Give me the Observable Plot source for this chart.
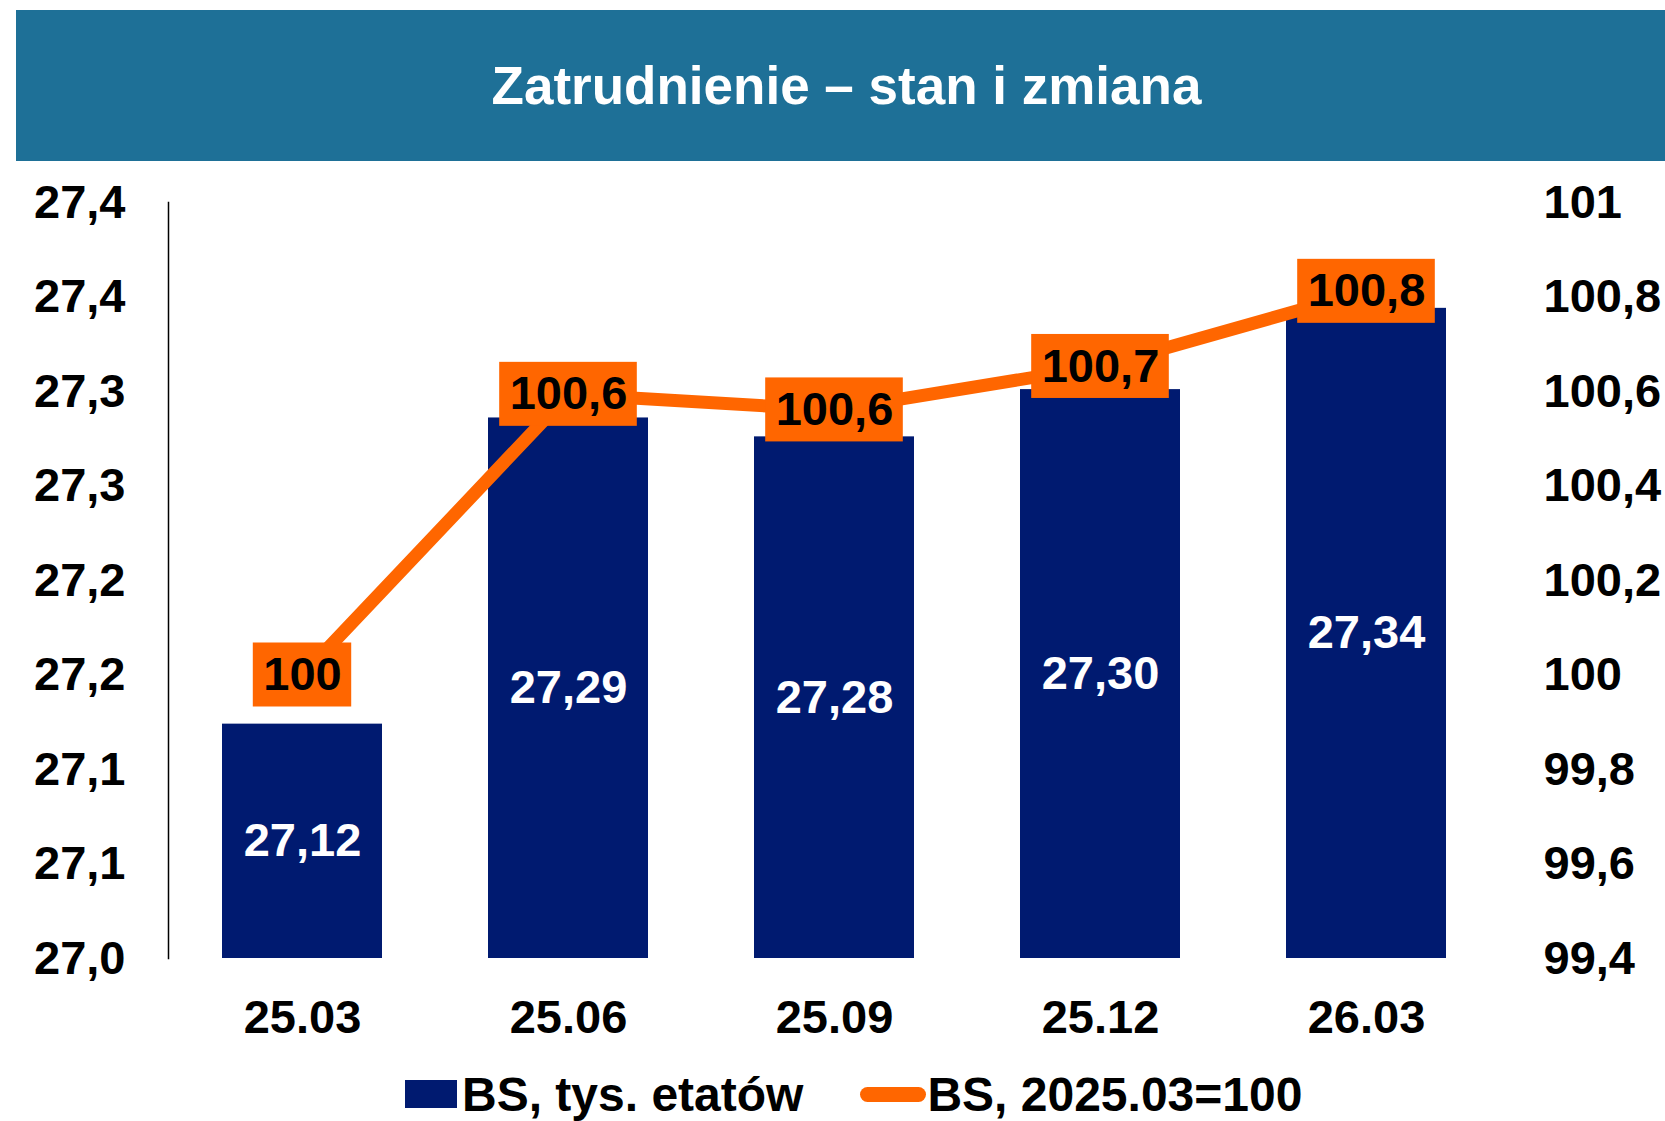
<!DOCTYPE html>
<html><head><meta charset="utf-8">
<script src="https://cdn.jsdelivr.net/npm/d3@7"></script>
<script src="https://cdn.jsdelivr.net/npm/@observablehq/plot@0.6"></script>
<style>
body{margin:0;width:1665px;height:1121px;position:relative;background:#fff;font-family:"Liberation Sans",Arial,sans-serif;overflow:hidden}
#header{position:absolute;left:16px;top:10px;width:1649px;height:151px;background:#1E7097;display:flex;align-items:center;justify-content:center}
#header h1{margin:0;color:#fff;font-size:53px;font-weight:bold;padding-left:12px;letter-spacing:0}
#chart{position:absolute;left:0;top:161px}
#legend{position:absolute;left:405px;top:1066px;height:56px;display:flex;align-items:center;font-size:48px;font-weight:bold;color:#000;white-space:nowrap}
#legend .sq{width:52px;height:28px;background:#001A70;margin-right:5px}
#legend .ln{width:66px;height:15px;border-radius:8px;background:#FF6600;margin-left:57px;margin-right:1px}
</style></head>
<body>
<div id="header"><h1>Zatrudnienie – stan i zmiana</h1></div>
<div id="chart"></div>
<div id="legend"><div class="sq"></div><span>BS, tys. etatów</span><div class="ln"></div><span>BS, 2025.03=100</span></div>
<script>
const categories = ["25.03", "25.06", "25.09", "25.12", "26.03"];
const barValues = [27.124, 27.286, 27.276, 27.301, 27.344];      // BS, tys. etatów
const indexValues = [100.0, 100.594, 100.561, 100.653, 100.812]; // BS, 2025.03=100
const leftTicks = [27.0, 27.05, 27.1, 27.15, 27.2, 27.25, 27.3, 27.35, 27.4];
const leftTickLabels = ["27,0", "27,1", "27,1", "27,2", "27,2", "27,3", "27,3", "27,4", "27,4"];
const rightTicks = [99.4, 99.6, 99.8, 100, 100.2, 100.4, 100.6, 100.8, 101];
const rightTickLabels = ["99,4", "99,6", "99,8", "100", "100,2", "100,4", "100,6", "100,8", "101"];
const yDomain = [27.0, 27.4];
const rightDomain = [99.4, 101];

const NAVY = "#001A70", ORANGE = "#FF6600";
const FONT = '"Liberation Sans", Arial, sans-serif';
const FS = 47;

const rows = categories.map((c, i) => ({cat: c, bar: barValues[i], idx: indexValues[i]}));
const toLeft = d3.scaleLinear().domain(rightDomain).range(yDomain);
const barFmt = v => d3.format(".2f")(v).replace(".", ",");
const idxFmt = v => String(Math.round(v * 10) / 10).replace(".", ",");
const nearest = (arr, d) => d3.minIndex(arr, t => Math.abs(t - d));

const canvas = document.createElement("canvas");
const ctx = canvas.getContext("2d");
ctx.font = `bold ${FS}px ${FONT}`;
const boxPad = 10, boxHalfH = 32;

function build(bandwidth) {
  const boxMarks = [];
  if (bandwidth) {
    const groups = d3.group(rows, d => idxFmt(d.idx).length);
    for (const [, sub] of groups) {
      const w = ctx.measureText(idxFmt(sub[0].idx)).width + 2 * boxPad;
      const inset = (bandwidth - w) / 2;
      boxMarks.push(Plot.barY(sub, {
        x: "cat", y1: d => toLeft(d.idx), y2: d => toLeft(d.idx), fill: ORANGE,
        insetTop: -boxHalfH, insetBottom: -boxHalfH, insetLeft: inset, insetRight: inset
      }));
    }
  }
  return Plot.plot({
    width: 1665, height: 900,
    marginTop: 41, marginBottom: 103, marginLeft: 168, marginRight: 165,
    style: {fontFamily: FONT, fontWeight: "bold", fontSize: FS + "px", color: "#000", background: "transparent", overflow: "visible"},
    x: {domain: categories, paddingInner: 0.4, paddingOuter: 0.2, label: null},
    y: {domain: yDomain, label: null},
    marks: [
      Plot.barY(rows, {x: "cat", y1: yDomain[0], y2: "bar", fill: NAVY}),
      Plot.frame({anchor: "left", stroke: "#000", strokeWidth: 1.5}),
      Plot.axisX({tickSize: 0, tickPadding: 41, fontSize: FS, fontWeight: "bold", fill: "#000", label: null}),
      Plot.axisY({anchor: "left", ticks: leftTicks, tickFormat: d => leftTickLabels[nearest(leftTicks, d)], tickSize: 0, tickPadding: 43, fontSize: FS, fontWeight: "bold", fill: "#000", label: null}),
      Plot.axisY({anchor: "right", ticks: rightTicks.map(toLeft), tickFormat: d => rightTickLabels[nearest(rightTicks.map(toLeft), d)], tickSize: 0, tickPadding: 43, fontSize: FS, fontWeight: "bold", fill: "#000", label: null}),
      Plot.text(rows, {x: "cat", y: d => (yDomain[0] + d.bar) / 2, text: d => barFmt(d.bar), fill: "#fff", fontSize: FS, fontWeight: "bold"}),
      Plot.line(rows, {x: "cat", y: d => toLeft(d.idx), stroke: ORANGE, strokeWidth: 13}),
      ...boxMarks,
      Plot.text(rows, {x: "cat", y: d => toLeft(d.idx), text: d => idxFmt(d.idx), fill: "#000", fontSize: FS, fontWeight: "bold"})
    ]
  });
}

const first = build(null);
const bw = first.scale("x").bandwidth;
const chart = build(bw);
document.getElementById("chart").appendChild(chart);
</script>
</body></html>
